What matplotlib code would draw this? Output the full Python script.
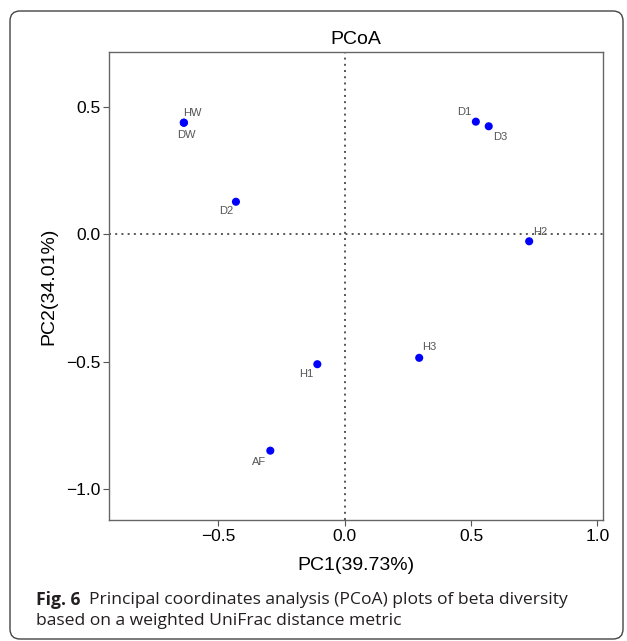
import matplotlib.pyplot as plt
from matplotlib.patches import FancyBboxPatch

# sample scores
samples = ['HW', 'DW', 'D1', 'D3', 'D2', 'H2', 'H3', 'H1', 'AF']
pc1 = [-0.636, -0.636, 0.519, 0.570, -0.430, 0.730, 0.295, -0.108, -0.294]
pc2 = [0.437, 0.437, 0.441, 0.423, 0.127, -0.028, -0.485, -0.510, -0.849]
# label offsets (points), like ggrepel placed them
lab_dx = [6, 2, -8, 8, -7, 8, 7, -8, -8]
lab_dy = [7, -9, 7, -8, -7, 7, 8, -7, -8]

xticks = [-0.5, 0.0, 0.5, 1.0]
yticks = [-1.0, -0.5, 0.0, 0.5]

plt.rcParams['font.family'] = ['Liberation Sans', 'DejaVu Sans']

fig = plt.figure(figsize=(6.27, 6.41), dpi=100)
ax = fig.add_axes([0.1743, 0.1895, 0.7874, 0.7289])

ax.axvline(0, color='#555555', lw=1.4, ls=(0, (1, 2.2)), zorder=1)
ax.axhline(0, color='#555555', lw=1.4, ls=(0, (1, 2.2)), zorder=1)
ax.scatter(pc1, pc2, s=34, color='#0000ff', zorder=3, edgecolors='none')
for i in range(len(samples)):
    ax.annotate(samples[i], (pc1[i], pc2[i]), xytext=(lab_dx[i], lab_dy[i]),
                textcoords='offset points', ha='center', va='center',
                fontsize=8, color='#555555', zorder=4)

ax.set_xlim(-0.931, 1.022)
ax.set_ylim(-1.119, 0.713)
ax.set_xticks(xticks)
ax.set_yticks(yticks)
ax.set_xticklabels(['\u22120.5', '0.0', '0.5', '1.0'])
ax.set_yticklabels(['\u22121.0', '\u22120.5', '0.0', '0.5'])
ax.tick_params(labelsize=12.5, length=4.5, width=0.8, color='#555555', pad=2)
for s in ax.spines.values():
    s.set_color('#666666')
    s.set_linewidth(1.0)

ax.set_title('PCoA', fontsize=14, pad=6)
ax.set_xlabel('PC1(39.73%)', fontsize=14, labelpad=10)
ax.set_ylabel('PC2(34.01%)', fontsize=14, labelpad=6)

# card border round the figure
card = FancyBboxPatch((0.10, 0.02), 6.13, 6.28,
                      boxstyle='round,pad=0,rounding_size=0.1',
                      transform=fig.dpi_scale_trans, fill=False,
                      edgecolor='#444444', lw=1.0)
fig.patches.append(card)

cap_font = ['Open Sans', 'DejaVu Sans']
cap_size = 12.6
y1 = 1 - 600 / 641
y2 = 1 - 621 / 641
x0 = 36 / 627
t_fig = fig.text(x0, y1, 'Fig. 6', fontsize=cap_size, fontweight='bold',
                 family=cap_font, va='center', color='#231f20')
r = fig.canvas.get_renderer()
bb = t_fig.get_window_extent(r)
fig.text((bb.x1 + 9) / 627, y1, 'Principal coordinates analysis (PCoA) plots of beta diversity',
         fontsize=cap_size, family=cap_font, va='center', color='#231f20')
fig.text(x0, y2, 'based on a weighted UniFrac distance metric',
         fontsize=cap_size, family=cap_font, va='center', color='#231f20')

fig.savefig('out.png', dpi=100)
